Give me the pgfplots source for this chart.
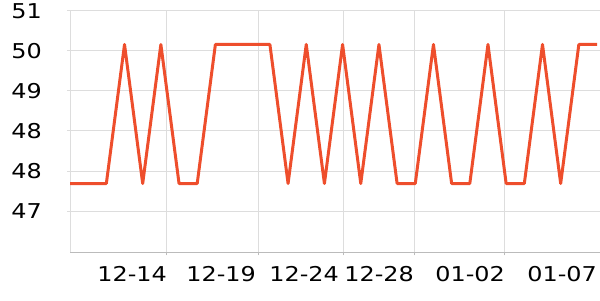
\documentclass[border=0pt]{standalone}
\usepackage{fontspec}
\setmainfont{DejaVu Sans}[FakeStretch=1.17]
\usepackage{pgfplots}
\pgfplotsset{compat=1.18}
\definecolor{lc}{HTML}{EE4E2C}
\definecolor{gridc}{HTML}{DDDDDD}
\definecolor{axc}{HTML}{BBBBBB}
\begin{document}
\begin{tikzpicture}[x=1bp,y=1bp]
\useasboundingbox (0,0) rectangle (600,300);
\begin{axis}[
  at={(70bp,47.7bp)}, anchor=south west,
  scale only axis, width=530bp, height=241.3bp,
  xmin=0, xmax=29.165, ymin=45.974, ymax=50.8,
  axis x line=bottom, axis y line=left,
  axis line style={-},
  x axis line style={draw=axc, line width=1bp},
  y axis line style={draw=gridc, line width=1bp},
  font=\fontsize{20.5}{24}\selectfont,
  /pgf/number format/assume math mode=true,
  ytick={46.8,47.6,48.4,49.2,50.0,50.8},
  yticklabels={47,48,48,49,50,51},
  xtick={5.283,10.345,15.023,18.946,23.92},
  xticklabels={},
  extra x ticks={5.338,10.236,14.803,18.93,23.937,29.0},
  extra x tick labels={12-14,12-19,12-24,12-28,01-02,01-07},
  extra x tick style={grid=none, major tick length=0pt,
     xticklabel style={anchor=north east, inner sep=0pt, yshift=-14bp}},
  xmajorgrids, ymajorgrids,
  grid style={draw=gridc, line width=1bp},
  tick align=outside, major tick length=3bp,
  tick style={draw=gridc, line width=1bp},
  x tick style={draw=axc},
  yticklabel style={anchor=east, inner sep=0pt, xshift=-25bp},
]
\addplot[lc, line width=3bp, line join=round, mark=none] coordinates {
(0,47.35) (1,47.35) (2,47.35) (3,50.13) (4,47.35) (5,50.13) (6,47.35) (7,47.35)
(8,50.13) (9,50.13) (10,50.13) (11,50.13) (12,47.35) (13,50.13) (14,47.35) (15,50.13)
(16,47.35) (17,50.13) (18,47.35) (19,47.35) (20,50.13) (21,47.35) (22,47.35) (23,50.13)
(24,47.35) (25,47.35) (26,50.13) (27,47.35) (28,50.13) (29,50.13)
};
\end{axis}
\end{tikzpicture}
\end{document}
